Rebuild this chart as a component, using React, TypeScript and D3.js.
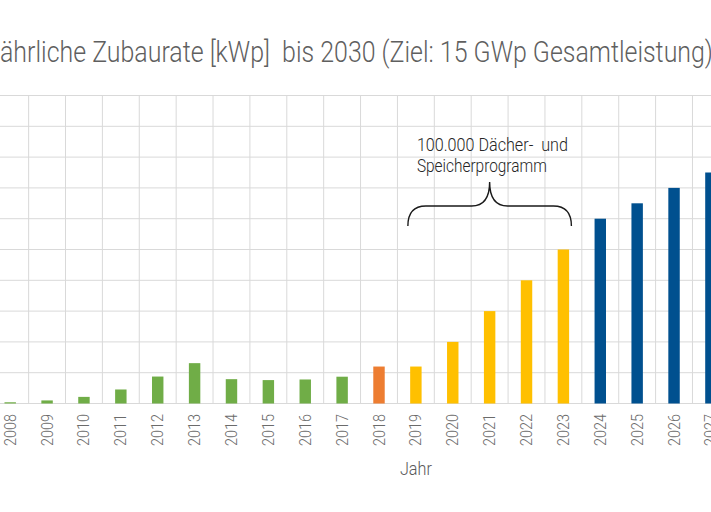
import React from 'react';
import * as d3 from 'd3';

// years of the whole chart (the picture is cut off after 2027)
const years = d3.range(2008, 2031).map(String);

// annual additions in kWp
const barYears = ['2008', '2009', '2010', '2011', '2012', '2013', '2014', '2015', '2016', '2017',
  '2018', '2019', '2020', '2021', '2022', '2023', '2024', '2025', '2026', '2027'];
const barValues = [8000, 20000, 43000, 91000, 175000, 262000, 158000, 152000, 156000, 174000,
  240000, 240000, 400000, 600000, 800000, 1000000, 1200000, 1300000, 1400000, 1500000];
// phase of each bar: history, base year, programme, target path
const barPhase = ['hist', 'hist', 'hist', 'hist', 'hist', 'hist', 'hist', 'hist', 'hist', 'hist',
  'base', 'prog', 'prog', 'prog', 'prog', 'prog', 'goal', 'goal', 'goal', 'goal'];

const yTicks = d3.range(0, 2000001, 200000);

const phaseColor: Record<string, string> = {
  hist: '#70ad47',
  base: '#ed7d31',
  prog: '#ffc000',
  goal: '#00508f',
};

// title is cut at the left edge of the picture, first letter lies outside
const titleHead = 'J';
const titleRest = 'ährliche Zubaurate [kWp]  bis 2030 (Ziel: 15 GWp Gesamtleistung)';
const noteLines = ['100.000 Dächer-  und', 'Speicherprogramm'];
const noteWidths = [151, 130];
const braceFrom = '2019';
const braceTo = '2023';

const font = "Roboto, 'DejaVu Sans', sans-serif";

const App: React.FC = () => {
  const width = 711;
  const height = 512;
  const step = 36.88;
  const left = -8.24;

  const x = d3.scaleBand<string>()
    .domain(years)
    .range([left, left + years.length * step]);

  const y = d3.scaleLinear()
    .domain([0, 2000000])
    .range([403.5, 95.5]);

  const barW = x.bandwidth() * 0.31;
  const cx = (yr: string) => (x(yr) || 0) + x.bandwidth() / 2;

  // curly brace above the programme years
  const bx0 = cx(braceFrom) - 8;
  const bx1 = cx(braceTo) + 8;
  const bm = (bx0 + bx1) / 2;
  const yEnd = 226;
  const yMid = 206;
  const yTip = 182;
  const brace = d3.path();
  brace.moveTo(bx0, yEnd);
  brace.bezierCurveTo(bx0, yMid + 6, bx0 + 6, yMid, bx0 + 18, yMid);
  brace.lineTo(bm - 18, yMid);
  brace.bezierCurveTo(bm - 6, yMid, bm, yMid - 8, bm, yTip);
  brace.bezierCurveTo(bm, yMid - 8, bm + 6, yMid, bm + 18, yMid);
  brace.lineTo(bx1 - 18, yMid);
  brace.bezierCurveTo(bx1 - 6, yMid, bx1, yMid + 6, bx1, yEnd);

  const centre = (cx(years[0]) + cx(years[years.length - 1])) / 2;
  // only the labels that reach into the picture
  const shownYears = years.filter(yr => cx(yr) - 8 < width);

  return (
    <svg width={width} height={height} style={{ position: 'fixed', left: 0, top: 0, background: '#fff' }}
      fontFamily={font} fontWeight={300}>
      {/* grid */}
      {yTicks.map(t => (
        <line key={'h' + t} x1={0} x2={width} y1={y(t)} y2={y(t)} stroke="#d9d9d9" strokeWidth={1} />
      ))}
      {years.slice(1).map(yr => (
        <line key={'v' + yr} x1={x(yr)} x2={x(yr)} y1={y(2000000)} y2={y(0)} stroke="#d9d9d9" strokeWidth={1} />
      ))}

      {/* bars */}
      {barYears.map((yr, i) => (
        <rect key={yr}
          x={cx(yr) - barW / 2}
          y={y(barValues[i])}
          width={barW}
          height={y(0) - y(barValues[i])}
          fill={phaseColor[barPhase[i]]} />
      ))}

      {/* x axis labels */}
      {shownYears.map(yr => (
        <text key={'t' + yr}
          transform={`translate(${cx(yr)},414) rotate(-90)`}
          textAnchor="end" dominantBaseline="central"
          fontSize={16.5} fill="#6b6b6b" textLength={32} lengthAdjust="spacingAndGlyphs">{yr}</text>
      ))}
      <text x={centre} y={475} textAnchor="middle" fontSize={18} fill="#595959"
        textLength={32} lengthAdjust="spacingAndGlyphs">Jahr</text>

      {/* title */}
      <text y={62} fontSize={29} fill="#5f5f5f" style={{ whiteSpace: 'pre' }}>
        <tspan x={-3} textAnchor="end">{titleHead}</tspan>
        <tspan x={0} textAnchor="start" textLength={713} lengthAdjust="spacingAndGlyphs">{titleRest}</tspan>
      </text>

      {/* programme note */}
      <path d={brace.toString()} fill="none" stroke="#1a1a1a" strokeWidth={1.4} />
      {noteLines.map((l, i) => (
        <text key={l} x={bx0 + 9} y={151 + i * 21} fontSize={18.5} fill="#262626"
          textLength={noteWidths[i]} lengthAdjust="spacingAndGlyphs"
          style={{ whiteSpace: 'pre' }}>{l}</text>
      ))}
    </svg>
  );
};

export default App;
